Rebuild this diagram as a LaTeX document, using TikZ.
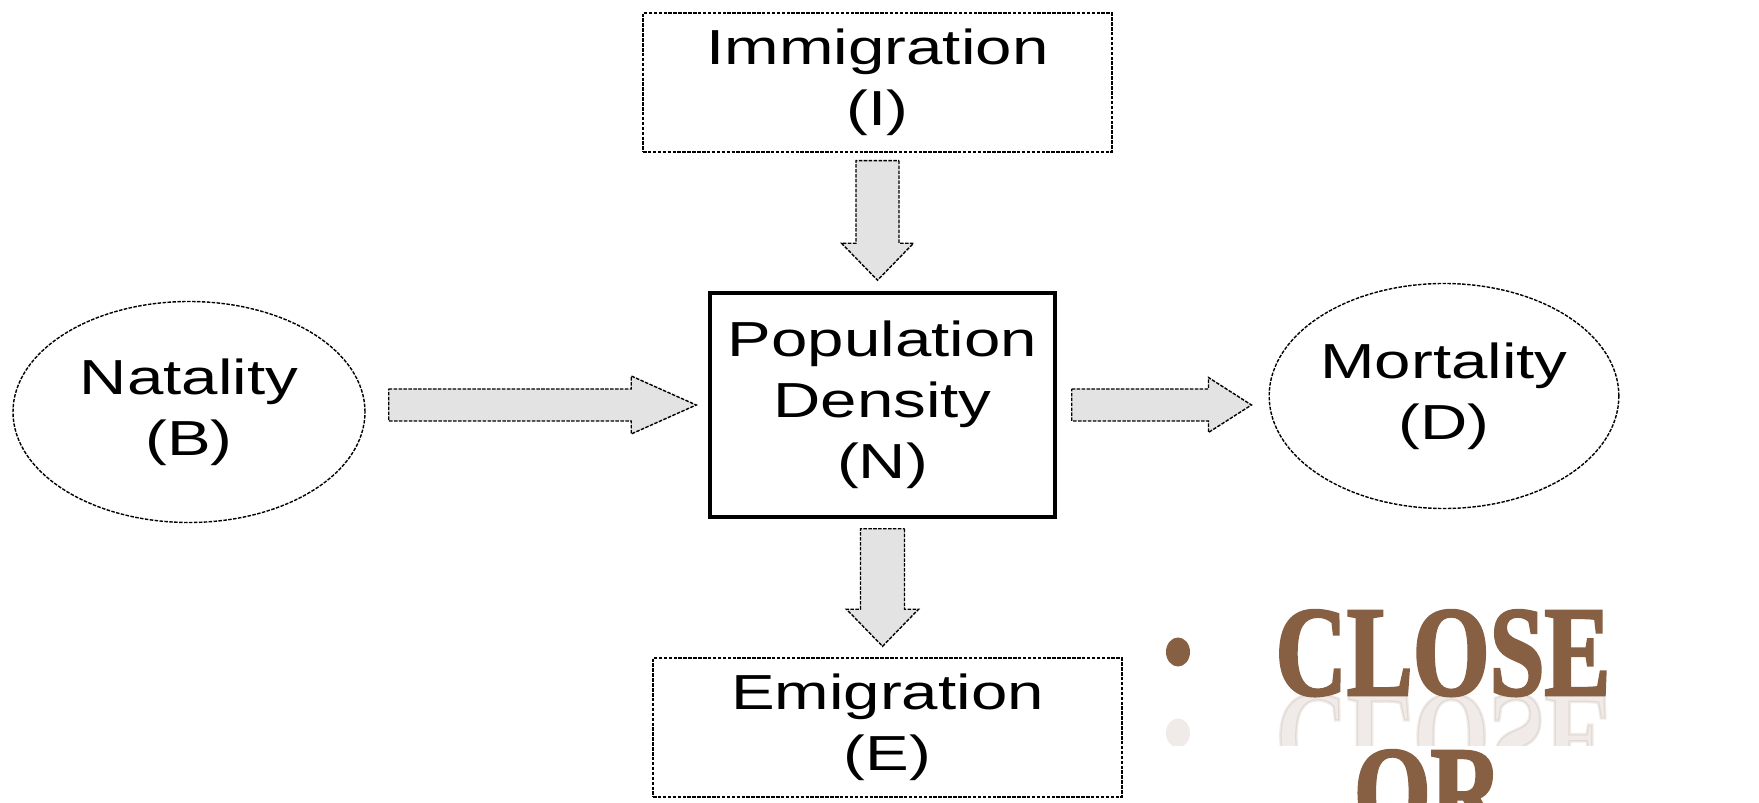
\documentclass[tikz,border=0pt]{standalone}
\usepackage{fontspec}
\setmainfont{Liberation Sans}[FakeStretch=1.33]
\newfontfamily\closefont{Liberation Serif}[FakeStretch=0.77, FakeBold=2]
\usepackage{tikz}
\usetikzlibrary{calc, shapes.geometric, positioning}
\definecolor{brownclose}{RGB}{135,96,68}

% fat block arrow: from, to, shaft half width, head half width, head length
\newcommand{\fatarrow}[5]{%
  \draw[flowarrow] let \p1=(#1), \p2=(#2),
      \n1={atan2(\y2-\y1,\x2-\x1)}, \n2={veclen(\x2-\x1,\y2-\y1)} in
    [shift={(\p1)}, rotate=\n1]
    (0,#3) -- ({\n2*1pt-#5},#3) -- ({\n2*1pt-#5},#4) -- ({\n2*1pt},0)
    -- ({\n2*1pt-#5},-#4) -- ({\n2*1pt-#5},-#3) -- (0,-#3) -- cycle;}

\begin{document}
\begin{tikzpicture}[
    every node/.style={font=\fontsize{28}{34.7}\selectfont},
    plainbox/.style={draw, dash pattern=on 2pt off 0.8pt, line width=0.8pt,
        minimum width=9.38cm, minimum height=2.78cm, align=center, inner sep=0pt},
    popbox/.style={draw, line width=2pt, minimum width=6.9cm,
        minimum height=4.48cm, align=center, inner sep=0pt},
    rateoval/.style={ellipse, draw, dash pattern=on 2pt off 0.8pt,
        line width=0.8pt, align=center, inner sep=0pt},
    flowarrow/.style={draw, dash pattern=on 2pt off 0.8pt, line width=0.8pt,
        fill=gray!22},
    closetext/.style={font=\closefont\bfseries\fontsize{73}{73}\selectfont,
        text=brownclose, inner sep=0pt}]
    \useasboundingbox[fill=white] (0,0) rectangle (35.18,-16.06);

    % 1. Boxes and ovals
    \node[plainbox] (imm) at (17.55,-1.65) {Immigration\\(I)};
    \node[popbox] (pop) at (17.65,-8.10) {Population\\Density\\(N)};
    \node[plainbox] (emi) at (17.75,-14.55) {Emigration\\(E)};
    \node[rateoval, minimum width=7.04cm, minimum height=4.42cm] (nat)
        at (3.78,-8.24) {Natality\\(B)};
    \node[rateoval, minimum width=5.16cm, minimum height=4.5cm] (mort)
        at (28.88,-7.92) {Mortality\\(D)};

    % 2. Block arrows
    \fatarrow{$(nat.east |- pop.west)+(0.46,0)$}{$(pop.west)-(0.24,0)$}{0.32cm}{0.58cm}{1.3cm}
    \fatarrow{$(pop.east)+(0.3,0)$}{$(pop.east -| mort.west)-(0.34,0)$}{0.32cm}{0.55cm}{0.86cm}
    \fatarrow{$(imm.south)-(0,0.16)$}{$(imm.south |- pop.north)+(0,0.22)$}{0.43cm}{0.72cm}{0.74cm}
    \fatarrow{$(pop.south)-(0,0.2)$}{$(pop.south |- emi.north)+(0,0.22)$}{0.44cm}{0.72cm}{0.74cm}

    % 3. Bullet text, cut off at the bottom
    \begin{scope}
      \clip (0,0) rectangle (35.18,-16.06);
      \fill[brownclose] (23.56,-13.04) ellipse (0.24 and 0.29);
      \node[closetext, anchor=base] (close) at (28.86,-13.9) {CLOSE};
      \node[closetext, anchor=base] (or) at (28.56,-16.7) {OR};
      \begin{scope}
        \clip (20,-13.9) rectangle (35.18,-14.9);
        \node[closetext, anchor=base, yscale=-1, transform shape, opacity=0.12]
            (closerefl) at (28.86,-13.9) {CLOSE};
        \fill[brownclose, opacity=0.12] (23.56,-14.66) ellipse (0.24 and 0.29);
      \end{scope}
    \end{scope}
\end{tikzpicture}
\end{document}
